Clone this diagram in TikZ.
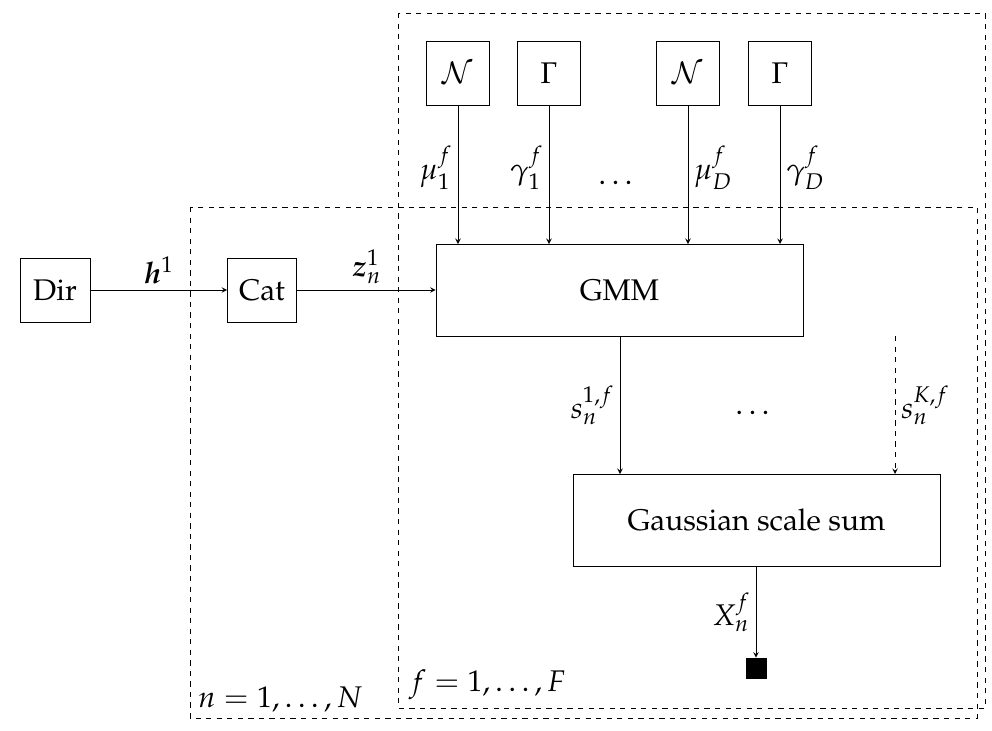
\documentclass[tikz,border=0pt]{standalone}
\usepackage[T1]{fontenc}
\usepackage{mathpazo}
\usepackage{amsmath,bm}
\begin{document}
\begin{tikzpicture}[x=0.02cm,y=-0.02cm,
  box/.style={draw,minimum height=64*0.02cm,inner sep=0pt},
  every node/.style={font=\fontsize{17}{20}\selectfont},
  arr/.style={->,>=stealth}]
\useasboundingbox (0,0) rectangle (992,731);
\node[box,minimum width=70*0.02cm] (dir) at (55,290) {Dir};
\node[box,minimum width=69*0.02cm] (cat) at (262,290) {Cat};
\node[box,minimum width=367*0.02cm,minimum height=92*0.02cm] (gmm) at (619.5,290) {GMM};
\node[box,minimum width=63*0.02cm] (n1) at (458,73) {$\mathcal{N}$};
\node[box,minimum width=63*0.02cm] (g1) at (549,73) {$\Gamma$};
\node[box,minimum width=63*0.02cm] (n2) at (688,73) {$\mathcal{N}$};
\node[box,minimum width=63*0.02cm] (g2) at (780,73) {$\Gamma$};
\node[box,minimum width=367*0.02cm,minimum height=92*0.02cm] (gss) at (756.5,520) {Gaussian scale sum};
\node[draw,fill=black,minimum size=20*0.02cm,inner sep=0pt] (obs) at (756,668) {};
\coordinate (a1) at (458,244); \coordinate (a2) at (549,244);
\coordinate (a3) at (688,244); \coordinate (a4) at (780,244);
\draw[arr] (n1.south) -- (a1) node[pos=0.45,left] {$\mu_1^f$};
\draw[arr] (g1.south) -- (a2) node[pos=0.45,left] {$\gamma_1^f$};
\draw[arr] (n2.south) -- (a3) node[pos=0.45,right] {$\mu_D^f$};
\draw[arr] (g2.south) -- (a4) node[pos=0.45,right] {$\gamma_D^f$};
\node at (618,183) {$\dots$};
\draw[arr] (dir) -- (cat) node[midway,above] {$\bm{h}^1$};
\draw[arr] (cat) -- (gmm) node[midway,above] {$\bm{z}_n^1$};
\coordinate (b1) at (620,336); \coordinate (b2) at (620,474);
\coordinate (c1) at (895,336); \coordinate (c2) at (895,474);
\draw[arr] (b1) -- (b2) node[midway,left] {$s_n^{1,f}$};
\draw[arr,dashed] (c1) -- (c2) node[midway,right] {$s_n^{K,f}$};
\node at (755,413) {$\dots$};
\draw[arr] (gss.south -| obs) -- (obs) node[midway,left] {$X_n^f$};
\draw[dashed] (398,13) rectangle (985,708);
\draw[dashed] (190,207) rectangle (977,718);
\node[anchor=south west] at (192,718) {$n=1,\dots,N$};
\node[anchor=south west] at (403,706) {$f=1,\dots,F$};
\end{tikzpicture}
\end{document}
